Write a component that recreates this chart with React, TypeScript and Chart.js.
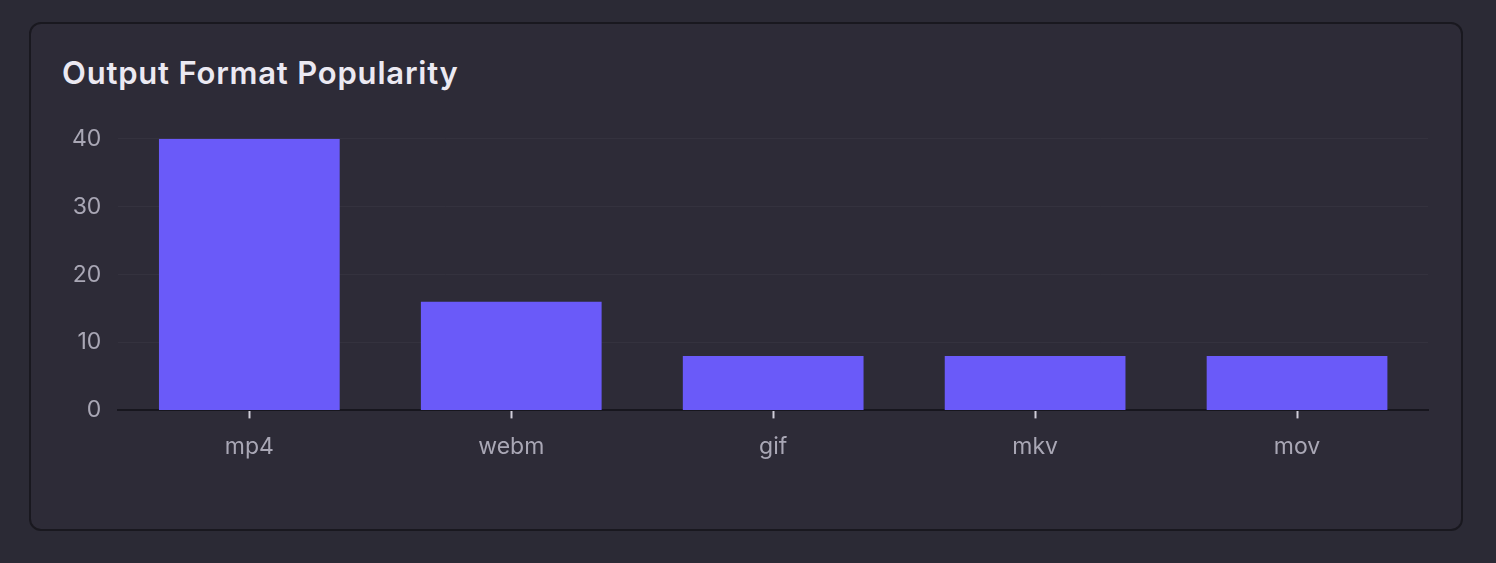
import { useEffect, useRef } from "react";
import { Chart, ChartConfiguration, registerables } from "chart.js";

Chart.register(...registerables);

const formats = ["mp4", "webm", "gif", "mkv", "mov"];
const counts = [40, 16, 8, 8, 8];
const yTicks = [0, 10, 20, 30, 40];

const FONT = "Inter, 'Noto Sans', sans-serif";

function FormatChart() {
  const canvasRef = useRef<HTMLCanvasElement>(null);
  const chartRef = useRef<Chart | null>(null);

  useEffect(() => {
    if (!canvasRef.current) return;
    const ctx = canvasRef.current.getContext("2d");
    if (!ctx) return;

    if (chartRef.current) {
      chartRef.current.destroy();
    }

    const config: ChartConfiguration = {
      type: "bar",
      data: {
        labels: formats,
        datasets: [{
          data: counts,
          backgroundColor: "#6a5af9",
          borderWidth: 0,
          barPercentage: 0.69,
          categoryPercentage: 1
        }]
      },
      options: {
        animation: false,
        responsive: true,
        maintainAspectRatio: false,
        layout: { padding: { top: 4, right: 4, bottom: 0, left: 0 } },
        plugins: {
          legend: { display: false },
          tooltip: { enabled: false }
        },
        scales: {
          x: {
            grid: {
              offset: false,
              drawOnChartArea: false,
              drawTicks: true,
              tickLength: 8,
              tickWidth: 2,
              tickColor: "#cfcdd8",
              color: "transparent"
            },
            border: { color: "#17161e", width: 2 },
            ticks: {
              color: "#a9a7b5",
              font: { size: 23, family: FONT },
              padding: 15
            }
          },
          y: {
            min: 0,
            max: 40,
            afterBuildTicks: (axis) => {
              axis.ticks = yTicks.map((v) => ({ value: v }));
            },
            grid: {
              color: "rgba(255,255,255,0.035)",
              drawTicks: false
            },
            border: { display: false },
            ticks: {
              color: "#a9a7b5",
              font: { size: 23, family: FONT },
              padding: 17
            }
          }
        }
      }
    };

    chartRef.current = new Chart(ctx, config);

    return () => {
      if (chartRef.current) {
        chartRef.current.destroy();
      }
    };
  }, []);

  return (
    <div style={{ position: "absolute", left: 55, top: 108, width: 1377, height: 368 }}>
      <canvas ref={canvasRef}></canvas>
    </div>
  );
}

export default function App() {
  return (
    <div style={{ position: "fixed", inset: 0, background: "#2b2a35", fontFamily: FONT }}>
      <div
        style={{
          position: "absolute",
          left: 29,
          top: 22,
          width: 1434,
          height: 509,
          boxSizing: "border-box",
          background: "#2d2b37",
          border: "2px solid #19181f",
          borderRadius: 12
        }}
      />
      <div
        style={{
          position: "absolute",
          left: 62,
          top: 53,
          color: "#ebe9f2",
          fontSize: 31,
          fontWeight: 600,
          letterSpacing: "0.8px",
          lineHeight: "40px"
        }}
      >
        Output Format Popularity
      </div>
      <FormatChart />
    </div>
  );
}
